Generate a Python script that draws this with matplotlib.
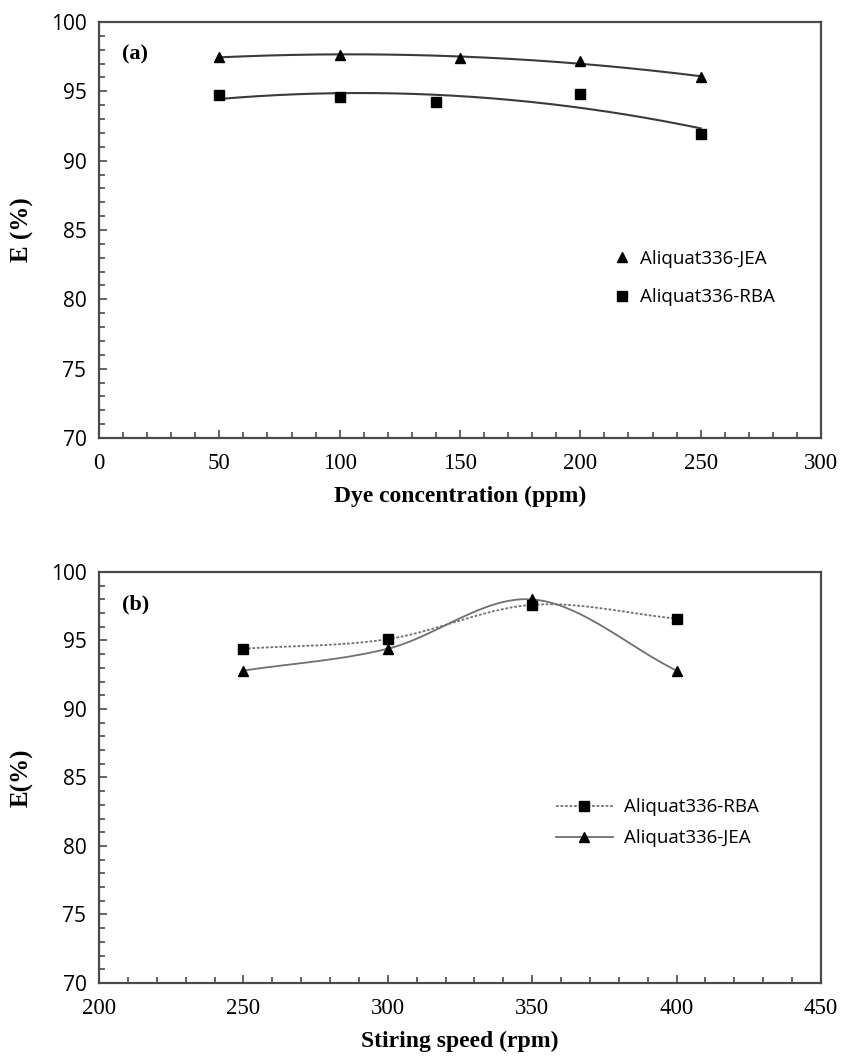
import numpy as np
import matplotlib.pyplot as plt
from matplotlib.ticker import MultipleLocator

# panel (a): dye concentration
conc_jea = [50, 100, 150, 200, 250]
e_jea_a = [97.5, 97.6, 97.4, 97.2, 96.0]
conc_rba = [50, 100, 140, 200, 250]
e_rba_a = [94.7, 94.6, 94.2, 94.8, 91.9]

# panel (b): stirring speed
speed = [250, 300, 350, 400]
e_rba_b = [94.4, 95.1, 97.6, 96.6]
e_jea_b = [92.8, 94.4, 98.0, 92.8]

xticks_a = [0, 50, 100, 150, 200, 250, 300]
xticks_b = [200, 250, 300, 350, 400, 450]
yticks = [70, 75, 80, 85, 90, 95, 100]

serif = 'Liberation Serif'
sans = 'Open Sans'
frame_col = '#4a4a4a'


def smooth(x, y, n=40):
    # catmull-rom style smoothing like excel's "smoothed line"
    x = np.asarray(x, float); y = np.asarray(y, float)
    px = np.concatenate([[2*x[0]-x[1]], x, [2*x[-1]-x[-2]]])
    py = np.concatenate([[2*y[0]-y[1]], y, [2*y[-1]-y[-2]]])
    xs, ys = [], []
    for i in range(1, len(px)-2):
        t = np.linspace(0, 1, n)
        for arr, out in ((px, xs), (py, ys)):
            p0, p1, p2, p3 = arr[i-1], arr[i], arr[i+1], arr[i+2]
            out.extend(0.5*((2*p1) + (-p0+p2)*t + (2*p0-5*p1+4*p2-p3)*t**2
                            + (-p0+3*p1-3*p2+p3)*t**3))
    return np.array(xs), np.array(ys)


def style(ax, xt):
    ax.set_xlim(xt[0], xt[-1])
    ax.set_ylim(70, 100)
    ax.set_xticks(xt)
    ax.set_xticklabels([str(v) for v in xt], fontfamily=serif, fontsize=16.5)
    ax.set_yticks(yticks)
    ax.set_yticklabels([str(v) for v in yticks], fontfamily=sans, fontsize=15)
    ax.yaxis.set_minor_locator(MultipleLocator(1))
    ax.xaxis.set_minor_locator(MultipleLocator(10))
    ax.tick_params(which='both', direction='in', top=False, right=False,
                   color=frame_col, width=1.2)
    ax.tick_params(axis='x', pad=11)
    ax.tick_params(axis='y', pad=9)
    ax.tick_params(which='major', length=6)
    ax.tick_params(which='minor', length=4)
    for s in ax.spines.values():
        s.set_color(frame_col)
        s.set_linewidth(1.6)


fig = plt.figure(figsize=(8.41, 10.62), dpi=100)

# ---- (a)
ax1 = fig.add_axes([0.1177, 0.5876, 0.8585, 0.3917])
for xv, yv in ((conc_jea, e_jea_a), (conc_rba, e_rba_a)):
    c = np.polyfit(xv, yv, 2)
    xx = np.linspace(50, 250, 200)
    ax1.plot(xx, np.polyval(c, xx), color='#3a3a3a', lw=1.5)
ax1.plot(conc_jea, e_jea_a, '^', color='black', ms=7, ls='none', label='Aliquat336-JEA')
ax1.plot(conc_rba, e_rba_a, 's', color='black', ms=6.5, ls='none', label='Aliquat336-RBA')
style(ax1, xticks_a)
ax1.set_xlabel('Dye concentration (ppm)', fontfamily=serif, fontweight='bold',
               fontsize=17, labelpad=8)
ax1.set_ylabel('E (%)', fontfamily=serif, fontweight='bold', fontsize=18, labelpad=12)
ax1.text(0.032, 0.945, '(a)', transform=ax1.transAxes, fontfamily=serif,
         fontweight='bold', fontsize=16, va='top')
ax1.legend(loc='center left', bbox_to_anchor=(0.69, 0.385), frameon=False,
           prop={'family': sans, 'size': 13.5}, handlelength=0.8, handletextpad=0.6,
           labelspacing=1.1)

# ---- (b)
ax2 = fig.add_axes([0.1177, 0.0744, 0.8585, 0.387])
sx, sy = smooth(speed, e_rba_b)
ax2.plot(sx, sy, color='#707070', lw=1.3, ls=(0, (1.5, 1)))
ax2.plot(speed, e_rba_b, 's', color='black', ms=6.5, ls='none')
sx, sy = smooth(speed, e_jea_b)
ax2.plot(sx, sy, color='#707070', lw=1.3)
ax2.plot(speed, e_jea_b, '^', color='black', ms=7, ls='none')
h1, = ax2.plot([], [], marker='s', color='black', ms=6.5, ls='none')
l1, = ax2.plot([], [], color='#707070', lw=1.3, ls=(0, (1.5, 1)))
h2, = ax2.plot([], [], marker='^', color='black', ms=7, ls='none')
l2, = ax2.plot([], [], color='#707070', lw=1.3)
style(ax2, xticks_b)
ax2.set_xlabel('Stiring speed (rpm)', fontfamily=serif, fontweight='bold',
               fontsize=17, labelpad=8)
ax2.set_ylabel('E(%)', fontfamily=serif, fontweight='bold', fontsize=18, labelpad=12)
ax2.text(0.032, 0.945, '(b)', transform=ax2.transAxes, fontfamily=serif,
         fontweight='bold', fontsize=16, va='top')
ax2.legend([(l1, h1), (l2, h2)], ['Aliquat336-RBA', 'Aliquat336-JEA'],
           loc='center left', bbox_to_anchor=(0.61, 0.39), frameon=False,
           prop={'family': sans, 'size': 13.5}, handlelength=3.0, handletextpad=0.6,
           labelspacing=0.7)

fig.savefig('out.png', dpi=100)
